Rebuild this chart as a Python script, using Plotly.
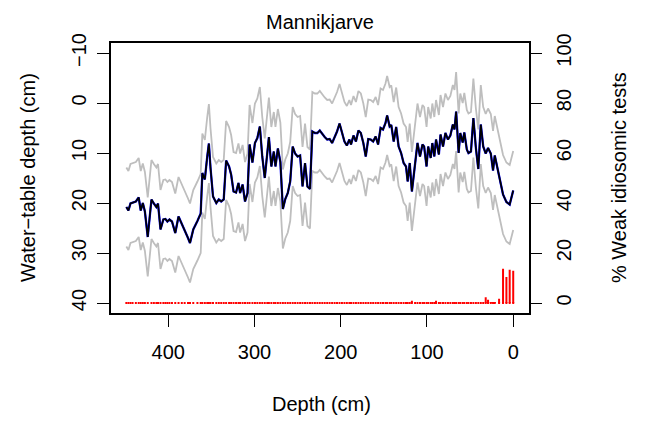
import plotly.graph_objects as go

# Sample depths down the core (cm)
depth = [
    448.6, 446.2, 443.8, 441.4, 437.6, 434.3, 431.9, 429.5, 427.1, 423.8,
    419.5, 416.7, 413.8, 411.9, 409.0, 405.7, 403.3, 401.0, 398.6, 395.7,
    391.9, 388.1, 384.3, 381.0, 377.1, 374.8, 371.0, 366.2, 362.4, 360.5,
    357.6, 354.8, 352.9, 351.0, 348.1, 344.3, 341.4, 338.6, 335.7, 332.9,
    329.5, 327.1, 324.3, 321.4, 318.6, 316.7, 313.8, 311.0, 308.1, 305.7,
    302.4, 299.5, 296.7, 293.8, 291.0, 288.1, 285.2, 283.3, 280.5, 277.6,
    275.7, 272.9, 270.0, 267.1, 264.3, 261.4, 258.6, 255.7, 252.9, 250.0,
    247.1, 244.3, 241.4, 238.6, 235.7, 232.9, 230.0, 227.1, 224.3, 221.4,
    218.6, 215.7, 212.9, 210.0, 207.1, 204.3, 201.4, 198.6, 195.7, 192.9,
    190.0, 188.1, 185.2, 182.4, 179.5, 176.7, 173.8, 171.0, 168.1, 165.2,
    162.4, 159.5, 156.7, 153.8, 151.0, 148.1, 146.2, 143.3, 141.4, 138.6,
    135.7, 132.9, 130.0, 127.1, 124.3, 122.4, 120.0, 117.5, 113.8, 111.0,
    108.1, 105.2, 103.3, 100.5, 98.6, 95.7, 93.8, 91.5, 89.5, 86.2,
    84.3, 81.4, 78.6, 75.7, 72.9, 70.0, 68.1, 66.2, 63.3, 61.4,
    58.6, 56.7, 53.8, 51.9, 49.0, 46.2, 43.3, 40.5, 37.6, 34.8,
    31.9, 29.2, 26.0, 23.4, 21.4, 16.4, 11.8, 7.9, 4.1, 0.0,
]

# Reconstructed water-table depth (cm)
wtd = [
    20.8, 21.5, 20.1, 19.9, 19.7, 18.9, 21.5, 20.0, 21.7, 26.8,
    19.3, 20.1, 20.8, 20.1, 25.3, 23.3, 23.2, 23.7, 23.3, 23.7,
    26.0, 22.7, 24.1, 25.3, 27.0, 28.0, 25.3, 23.6, 22.1, 14.0,
    15.3, 10.7, 8.1, 13.0, 18.7, 20.0, 19.3, 19.7, 19.3, 11.5,
    12.7, 14.3, 17.7, 17.9, 16.0, 18.0, 16.3, 19.7, 18.0, 8.3,
    11.9, 8.0, 7.0, 4.7, 10.7, 15.0, 10.7, 6.8, 12.7, 9.7,
    12.7, 9.1, 11.8, 21.2, 19.2, 18.0, 15.7, 8.7, 10.1, 10.7,
    10.5, 16.7, 12.0, 16.7, 17.2, 5.7, 6.0, 6.0, 5.5, 6.3,
    6.8, 7.3, 7.2, 8.0, 6.8, 5.7, 4.1, 5.7, 7.7, 8.5,
    7.3, 8.3, 6.5, 7.7, 5.5, 6.0, 8.0, 10.7, 7.2, 7.3,
    7.7, 6.7, 8.3, 5.0, 5.3, 4.0, 2.5, 4.7, 4.4, 7.7,
    4.8, 8.7, 10.0, 12.0, 12.7, 15.7, 12.0, 17.7, 12.7, 8.0,
    10.7, 8.3, 8.7, 12.7, 8.7, 11.0, 8.0, 10.7, 7.3, 10.3,
    6.3, 8.7, 6.0, 7.3, 6.5, 4.3, 5.3, 1.7, 10.0, 6.0,
    7.9, 5.9, 9.3, 10.0, 9.7, 3.0, 9.0, 13.2, 4.3, 8.7,
    10.1, 9.0, 10.1, 13.5, 10.5, 14.5, 18.3, 19.8, 20.3, 17.5,
]

# Prediction error of the transfer function (cm)
rmsep = 7.9

# Percentage of weak idiosomic tests per sample
weak_pct = [
    0, 0, 0, 0, 0, 0, 0, 0, 0, 0,
    0, 0, 0, 0, 0, 0, 0, 0, 0, 0,
    0, 0, 0, 0, 0, 0, 0, 0, 0, 0,
    0, 0, 0, 0, 0, 0, 0, 0, 0, 0,
    0, 0, 0, 0, 0, 0, 0, 0, 0, 0,
    0, 0, 0, 0, 0, 0, 0, 0, 0, 0,
    0, 0, 0, 0, 0, 0, 0, 0, 0, 0,
    0, 0, 0, 0, 0, 0, 0, 0, 0, 0,
    0, 0, 0, 0, 0, 0, 0, 0, 0, 0,
    0, 0, 0, 0, 0, 0, 0, 0, 0, 0,
    0, 0, 0, 0, 0, 0, 0, 0, 0, 0,
    0, 0, 0, 0, 0, 0, 0, 0.9, 0, 0,
    0, 0, 0, 0, 0, 0, 0, 0, 0.9, 0,
    0, 0, 0, 0, 0, 0, 0, 0, 0, 0,
    0, 0, 0, 0, 0, 0, 0, 0, 0, 0,
    2.3, 1.3, 0.4, 0.4, 0.4, 1.7, 13.7, 10.4, 13.3, 12.9,
]

x_ticks = [400, 300, 200, 100, 0]
y_ticks = [-10, 0, 10, 20, 30, 40]
y2_ticks = [0, 20, 40, 60, 80, 100]

upper = [v - rmsep for v in wtd]
lower = [v + rmsep for v in wtd]

FONT = "Liberation Sans, Arial, Helvetica, sans-serif"
W, H = 646, 421
ML, MR, MT, MB = 111, 117, 43, 108

fig = go.Figure()

# error envelope
for band in (upper, lower):
    fig.add_trace(go.Scatter(x=depth, y=band, mode="lines",
                             line=dict(color="#BEBEBE", width=1.8),
                             hoverinfo="skip", showlegend=False))

# reconstruction
fig.add_trace(go.Scatter(x=depth, y=wtd, mode="lines",
                         line=dict(color="#0000FF", width=2.3),
                         showlegend=False))
fig.add_trace(go.Scatter(x=depth, y=wtd, mode="lines",
                         line=dict(color="#000000", width=1.7),
                         showlegend=False))

# weak idiosomic tests as vertical spikes on the right-hand axis
sx, sy = [], []
for d, p in zip(depth, weak_pct):
    if p > 0:
        sx += [d, d, None]
        sy += [0, p, None]
fig.add_trace(go.Scatter(x=sx, y=sy, mode="lines", yaxis="y2",
                         line=dict(color="#FF0000", width=2.0),
                         showlegend=False))
fig.add_trace(go.Scatter(x=depth, y=[0] * len(depth), mode="markers", yaxis="y2",
                         marker=dict(color="#FF0000", size=2.0, symbol="square",
                                     line=dict(width=0)),
                         showlegend=False))

axis_common = dict(showgrid=False, zeroline=False, ticks="outside", ticklen=12,
                   tickwidth=1.3, tickcolor="black",
                   tickfont=dict(family=FONT, size=20, color="black"))

fig.update_layout(
    width=W, height=H,
    margin=dict(l=ML, r=MR, t=MT, b=MB, pad=0),
    paper_bgcolor="white", plot_bgcolor="white",
    font=dict(family=FONT, size=20, color="black"),
    title=dict(text="Mannikjarve", x=(ML + (W - MR)) / 2 / W, xanchor="center",
               y=1 - 22 / H, yanchor="middle",
               font=dict(family=FONT, size=20, color="black")),
    xaxis=dict(range=[466.4, -18.3], tickvals=x_ticks, showline=True, mirror=True,
               linecolor="black", linewidth=1.5, ticklabelstandoff=8, **axis_common),
    yaxis=dict(range=[42, -12], tickvals=y_ticks, tickangle=-90, showline=True,
               mirror=True, linecolor="black", linewidth=1.5,
               ticklabelstandoff=3, **axis_common),
    yaxis2=dict(range=[-4, 104], tickvals=y2_ticks, tickangle=-90, overlaying="y",
                side="right", showline=False, ticklabelstandoff=5, **axis_common),
)

def px_x(px):
    return (px - ML) / (W - ML - MR)

def px_y(py):
    return (H - MB - py) / (H - MT - MB)

fig.add_annotation(text="Depth (cm)", x=px_x(321), y=px_y(404), xref="paper", yref="paper",
                   showarrow=False, xanchor="center", yanchor="middle",
                   font=dict(family=FONT, size=20, color="black"))
fig.add_annotation(text="Water\u2212table depth (cm)", x=px_x(28), y=px_y(178),
                   xref="paper", yref="paper", showarrow=False, textangle=-90,
                   xanchor="center", yanchor="middle",
                   font=dict(family=FONT, size=20, color="black"))
fig.add_annotation(text="% Weak idiosomic tests", x=px_x(619), y=px_y(178),
                   xref="paper", yref="paper", showarrow=False, textangle=-90,
                   xanchor="center", yanchor="middle",
                   font=dict(family=FONT, size=20, color="black"))

fig.write_html("out.html")
